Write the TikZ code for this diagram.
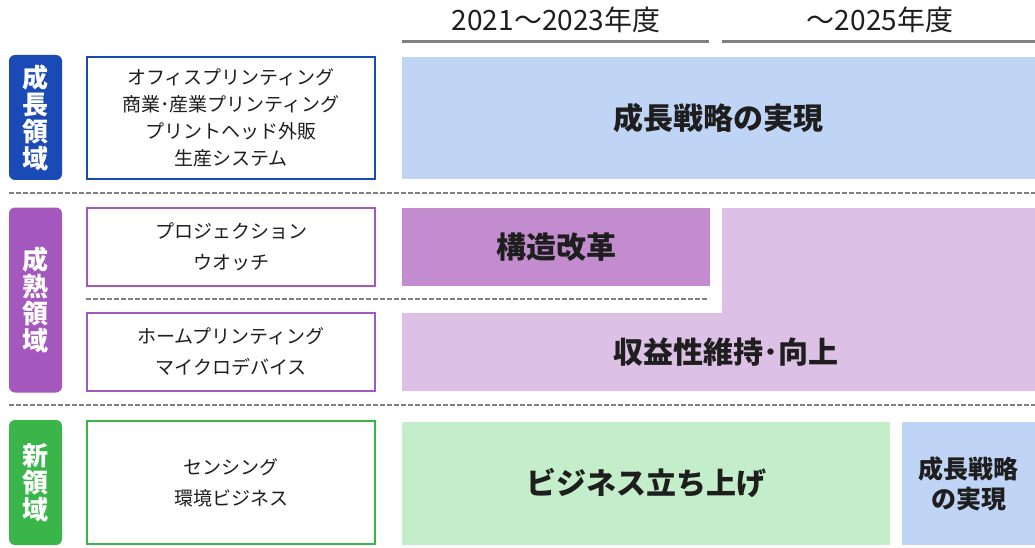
\documentclass[tikz,border=0pt]{standalone}
\usepackage{fontspec}
\setmainfont{Noto Sans CJK JP}
\usepackage{xcolor}

\definecolor{growD}{HTML}{1A4AB5}
\definecolor{growL}{HTML}{C0D4F6}
\definecolor{matD}{HTML}{A457BC}
\definecolor{matM}{HTML}{C28CCF}
\definecolor{matL}{HTML}{DCC0E6}
\definecolor{newD}{HTML}{3AB54A}
\definecolor{newL}{HTML}{C4EDC9}
\definecolor{txt}{HTML}{1E1E1E}
\definecolor{sepgray}{HTML}{808080}

\begin{document}
\begin{tikzpicture}[x=1pt,y=-1pt,
    tagbox/.style={rounded corners=6pt,minimum width=53pt,inner sep=0pt,text=white,align=center,font=\bfseries\fontsize{26}{27}\selectfont},
    itembox/.style={draw,fill=white,line width=2.5pt,minimum width=288pt,inner sep=0pt,text=txt,align=center},
    planbox/.style={inner sep=0pt,text=txt,align=center,font=\bfseries\fontsize{30}{32}\selectfont},
    sep/.style={sepgray,line width=1.8pt,dash pattern=on 5pt off 2pt},
    hdline/.style={gray,line width=3pt}]
            \useasboundingbox (0,0) rectangle (1035,548);
            % headers
            \node (hdA) at (556,20) [font=\fontsize{28}{30}\selectfont,text=txt] {2021～2023年度};
            \node (hdB) at (880,20) [font=\fontsize{28}{30}\selectfont,text=txt] {～2025年度};
            \draw[hdline] (402,42) -- (709,42);
            \draw[hdline] (722,42) -- (1035,42);
            % growth
            \node (tagG) at (35.5,117.5) [tagbox,fill=growD,minimum height=125pt] {成\\長\\領\\域};
            \node (boxG) at (231,118) [itembox,draw=growD,minimum height=122pt,font=\fontsize{19}{27}\selectfont] {オフィスプリンティング\\商業･産業プリンティング\\プリントヘッド外販\\生産システム};
            \node (planG) at (718.5,118) [planbox,fill=growL,minimum width=633pt,minimum height=122pt] {成長戦略の実現};
            \draw[sep] (9,193) -- (1035,193);
            % mature
            \node (tagM) at (35.5,300) [tagbox,fill=matD,minimum height=185pt] {成\\熟\\領\\域};
            \node (boxMa) at (231,247) [itembox,draw=matD,minimum height=78pt,font=\fontsize{19}{31}\selectfont] {プロジェクション\\ウオッチ};
            \node (boxMb) at (231,352) [itembox,draw=matD,minimum height=78pt,font=\fontsize{19}{31}\selectfont] {ホームプリンティング\\マイクロデバイス};
            \draw[sep] (86,299) -- (709,299);
            \fill[matL] (722,208) -- (1035,208) -- (1035,391) -- (402,391) -- (402,313) -- (722,313) -- cycle;
            \node (planMa) at (556,247) [planbox,fill=matM,minimum width=308pt,minimum height=78pt] {構造改革};
            \node (planMb) at (726,352) [planbox] {収益性維持･向上};
            \draw[sep] (9,405) -- (1035,405);
            % new
            \node (tagN) at (35.5,482.5) [tagbox,fill=newD,minimum height=125pt] {新\\領\\域};
            \node (boxN) at (231,482.5) [itembox,draw=newD,minimum height=123pt,font=\fontsize{19}{31}\selectfont] {センシング\\環境ビジネス};
            \node (planNa) at (646,483.5) [planbox,fill=newL,minimum width=488pt,minimum height=123pt] {ビジネス立ち上げ};
            \node (planNb) at (968.5,483.5) [planbox,fill=growL,minimum width=133pt,minimum height=123pt,font=\bfseries\fontsize{25}{30}\selectfont] {成長戦略\\の実現};
        \end{tikzpicture}
\end{document}
